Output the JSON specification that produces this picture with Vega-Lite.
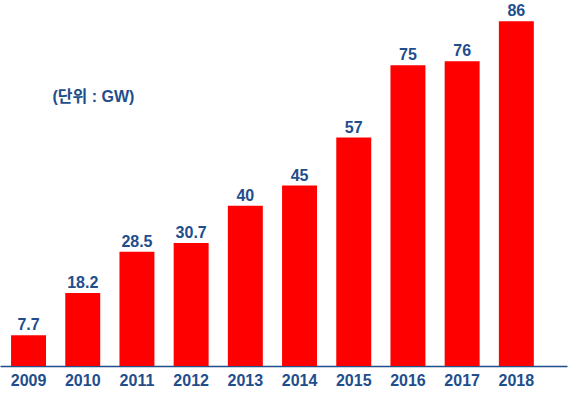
{
  "$schema": "https://vega.github.io/schema/vega-lite/v6.json",
  "width": 567,
  "height": 366,
  "padding": {"top": 0, "left": 0, "right": 1, "bottom": 35},
  "autosize": {"type": "none"},
  "background": "white",
  "config": {
    "view": {"stroke": null},
    "font": "Liberation Sans"
  },
  "data": {
    "values": [
      {"year": "2009", "gw": 7.7, "label": "7.7"},
      {"year": "2010", "gw": 18.2, "label": "18.2"},
      {"year": "2011", "gw": 28.5, "label": "28.5"},
      {"year": "2012", "gw": 30.7, "label": "30.7"},
      {"year": "2013", "gw": 40, "label": "40"},
      {"year": "2014", "gw": 45, "label": "45"},
      {"year": "2015", "gw": 57, "label": "57"},
      {"year": "2016", "gw": 75, "label": "75"},
      {"year": "2017", "gw": 76, "label": "76"},
      {"year": "2018", "gw": 86, "label": "86"}
    ]
  },
  "encoding": {
    "x": {
      "field": "year",
      "type": "ordinal",
      "scale": {"paddingInner": 0.355, "paddingOuter": 0.408, "align": 0.25},
      "axis": {
        "title": null,
        "labelAngle": 0,
        "ticks": false,
        "domainColor": "#1f4e8c",
        "domainWidth": 1.5,
        "labelColor": "#1f4e8c",
        "labelFont": "Liberation Sans",
        "labelFontSize": 16,
        "labelFontWeight": "bold",
        "labelPadding": 6
      }
    },
    "y": {
      "field": "gw",
      "type": "quantitative",
      "scale": {"domain": [0, 91.3]},
      "axis": null
    }
  },
  "layer": [
    {
      "mark": {"type": "bar", "color": "#ff0000"}
    },
    {
      "mark": {
        "type": "text",
        "baseline": "bottom",
        "dy": -2,
        "color": "#1f4e8c",
        "font": "Liberation Sans",
        "fontSize": 16,
        "fontWeight": "bold"
      },
      "encoding": {"text": {"field": "label"}}
    },
    {
      "data": {"values": [{"year": "2009", "gw": 67, "note": "(단위 : GW)"}]},
      "mark": {
        "type": "text",
        "align": "left",
        "baseline": "middle",
        "dx": 24,
        "color": "#1f4e8c",
        "font": "Liberation Sans, Noto Sans CJK KR",
        "fontSize": 16,
        "fontWeight": "bold"
      },
      "encoding": {"text": {"field": "note"}}
    }
  ]
}
